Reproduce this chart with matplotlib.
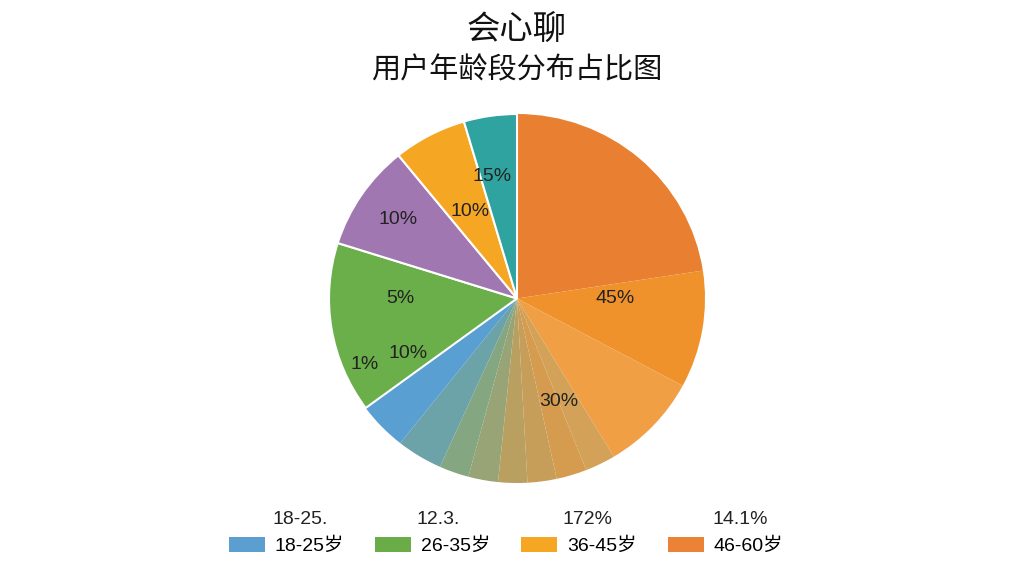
import numpy as np
import matplotlib.pyplot as plt
from matplotlib.patches import Patch

plt.rcParams['font.family'] = ['Liberation Sans', 'Noto Sans CJK SC', 'DejaVu Sans']

# wedge sizes (degrees, clockwise from 12 o'clock)
sizes = [81.3, 36.9, 30.8, 9.4, 9.4, 9.0, 9.0, 9.2, 9.2, 14.2, 15.2, 53.9, 33.4, 22.7, 16.4]
colors = ['#E97F30', '#EF922C', '#F19F45', '#D3A157', '#D59B4E', '#C69E5A', '#B9A060',
          '#98A475', '#84A680', '#6CA3A8', '#5A9FD1', '#6BAF4A', '#A077B0', '#F5A623', '#2EA39F']
# wedges that have a white border in the reference
edged = [11, 12, 13, 14]

pie_labels = ['45%', '30%', '15%', '10%', '10%', '5%', '10%', '1%']
label_xy = [(0.52, 0.0), (0.22, -0.56), (-0.13, 0.66), (-0.25, 0.47),
            (-0.63, 0.43), (-0.62, 0.0), (-0.58, -0.30), (-0.81, -0.36)]

legend_names = ['18-25岁', '26-35岁', '36-45岁', '46-60岁']
legend_colors = ['#5B9FD0', '#6AAD48', '#F5A623', '#EB8235']
legend_top = ['18-25.', '12.3.', '172%', '14.1%']
legend_top_x = [300, 438, 588, 740]

fig = plt.figure(figsize=(10.24, 5.76), dpi=100)
fig.patch.set_facecolor('white')

cx, cy, rx, ry = 517, 298.5, 188, 184.5
ax = fig.add_axes([(cx - rx) / 1024, (576 - cy - ry) / 576, 2 * rx / 1024, 2 * ry / 576])
wedges, _ = ax.pie(sizes, colors=colors, startangle=90, counterclock=False,
                   wedgeprops=dict(linewidth=0))
for i in edged:
    wedges[i].set_edgecolor('white')
    wedges[i].set_linewidth(1.5)
ax.set_aspect('auto')
ax.set_xlim(-1, 1)
ax.set_ylim(-1, 1)
ax.axis('off')

for lab, (x, y) in zip(pie_labels, label_xy):
    ax.text(x, y, lab, ha='center', va='center', fontsize=14, color='#222222')

fig.text(cx / 1024, 1 - 30 / 576, '会心聊', ha='center', va='center', fontsize=24, color='#111111')
fig.text(cx / 1024, 1 - 70 / 576, '用户年龄段分布占比图', ha='center', va='center',
         fontsize=21, color='#111111')

for t, x in zip(legend_top, legend_top_x):
    fig.text(x / 1024, 1 - 519 / 576, t, ha='center', va='center', fontsize=14, color='#222222')

handles = [Patch(facecolor=c, edgecolor='none') for c in legend_colors]
fig.legend(handles, legend_names, loc='center', bbox_to_anchor=(506 / 1024, 1 - 546 / 576),
           ncol=4, frameon=False, fontsize=14, handlelength=1.85, handleheight=0.8,
           handletextpad=0.5, columnspacing=1.6)

fig.savefig('out.png', dpi=100)
